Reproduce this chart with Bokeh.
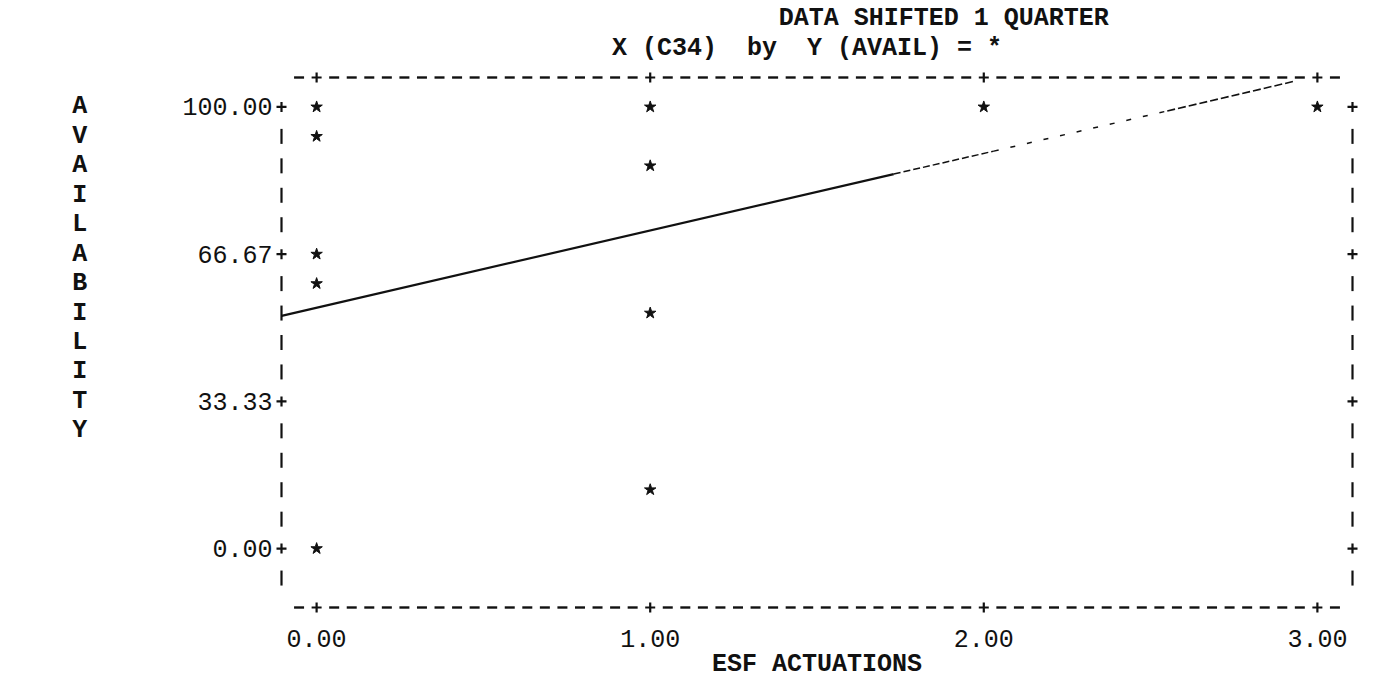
import numpy as np
from bokeh.plotting import figure
from bokeh.models import Range1d, FixedTicker, PrintfTickFormatter
from bokeh.core.properties import value
from bokeh.embed import file_html
from bokeh.resources import INLINE

# ESF actuations per quarter against availability (%), data shifted one quarter
esf_actuations = [0, 0, 0, 0, 0, 1, 1, 1, 1, 2, 3]
availability = [100.0, 93.33, 66.67, 60.0, 0.0, 100.0, 86.67, 53.33, 13.33, 100.0, 100.0]

# hand-drawn trend line, break points along its length
trend_x = [-0.105, 1.73, 2.03, 2.55, 2.93]
trend_y = [52.7, 84.8, 90.0, 99.1, 105.8]
trend_dash = ["solid", "7 3", "5 12", "8 3"]
trend_width = [2.2, 1.5, 1.5, 1.6]

x_ticks = [0, 1, 2, 3]
y_ticks = [0, 100 / 3, 200 / 3, 100]

# double blanks kept as no-break spaces so they survive SVG whitespace folding
title_lines = ["DATA SHIFTED 1 QUARTER",
               "X (C34)\u00a0\u00a0by\u00a0\u00a0Y (AVAIL) = *"]
x_title = "ESF ACTUATIONS"
y_title = "AVAILABILITY"

# line-printer character grid: 19 columns per x unit, 15 rows per 100 y units
COLS = 19
ROW = 100 / 15

FONT = "Liberation Mono"
FSIZE = "25px"
INK = "#111111"

p = figure(
    width=1373, height=681,
    x_range=Range1d(-2 / COLS, 59 / COLS),
    y_range=Range1d(-2 * ROW, 100 + ROW),
    output_backend="svg", toolbar_location=None,
    min_border_left=281, min_border_right=21,
    min_border_top=77, min_border_bottom=74,
)
p.outline_line_color = None
p.xgrid.visible = False
p.ygrid.visible = False
p.background_fill_color = "white"
p.border_fill_color = "white"

# axes carry only the printed tick values
for ax in (p.xaxis, p.yaxis):
    ax.axis_line_color = None
    ax.major_tick_line_color = None
    ax.minor_tick_line_color = None
    ax.major_tick_in = 0
    ax.major_tick_out = 0
    ax.major_label_text_font = FONT
    ax.major_label_text_font_size = FSIZE
    ax.major_label_text_color = INK
    ax.formatter = PrintfTickFormatter(format="%.2f")

p.xaxis.ticker = FixedTicker(ticks=x_ticks)
p.yaxis.ticker = FixedTicker(ticks=y_ticks)
p.xaxis.major_label_standoff = 22
p.yaxis.major_label_standoff = 9
p.xaxis.axis_label = x_title
p.xaxis.axis_label_text_font = FONT
p.xaxis.axis_label_text_font_size = FSIZE
p.xaxis.axis_label_text_font_style = "bold"
p.xaxis.axis_label_text_color = INK
p.xaxis.axis_label_standoff = 0

# printed frame: '-' and '+' along top and bottom, '|' and '+' at the sides
cols = np.arange(-1, 59)
dash_x = [c / COLS for c in cols if c % COLS != 0]
plus_x = [c / COLS for c in cols if c % COLS == 0]
top_y, bot_y = 100 + ROW, -2 * ROW
rows = np.arange(0, 17)
bar_y = [100 - r * ROW for r in rows if r % 5 != 0]
plus_y = [100 - r * ROW for r in rows if r % 5 == 0]
left_x, right_x = -2 / COLS, 59 / COLS

frame_marks = [
    p.scatter(dash_x * 2, [top_y] * len(dash_x) + [bot_y] * len(dash_x),
              marker="dash", size=10, line_width=2.4, line_color=INK),
    p.scatter(plus_x * 2, [top_y] * len(plus_x) + [bot_y] * len(plus_x),
              marker="cross", size=10, line_width=2.2, line_color=INK),
    p.scatter([left_x] * len(bar_y) + [right_x] * len(bar_y), bar_y * 2,
              marker="dash", angle=np.pi / 2, size=15, line_width=2.2, line_color=INK),
    p.scatter([left_x] * len(plus_y) + [right_x] * len(plus_y), plus_y * 2,
              marker="cross", size=10, line_width=2.2, line_color=INK),
]

# trend line
for i in range(len(trend_x) - 1):
    seg = p.line(trend_x[i:i + 2], trend_y[i:i + 2], line_color=INK,
                 line_width=trend_width[i], line_dash=trend_dash[i])
    frame_marks.append(seg)

# observations
p.scatter(esf_actuations, availability, marker="star", size=12,
          fill_color=INK, line_color=INK, line_width=1)

# heading lines above the frame
heads = p.text(x=[1.88, 1.47], y=[100 + 3 * ROW, 100 + 2 * ROW], text=title_lines,
               text_font=value(FONT), text_font_size=value(FSIZE),
               text_font_style="bold", text_color=INK,
               text_align="center", text_baseline="middle")
frame_marks.append(heads)

# vertical axis title printed one letter per row
letters = list(y_title)
ylab = p.text(x=[-0.71] * len(letters), y=[100 - i * ROW for i in range(len(letters))],
              text=letters, text_font=value(FONT), text_font_size=value(FSIZE),
              text_font_style="bold", text_color=INK,
              text_align="center", text_baseline="middle")
frame_marks.append(ylab)

for r in frame_marks:
    r.level = "overlay"

open("out.html", "w").write(file_html(p, INLINE))
